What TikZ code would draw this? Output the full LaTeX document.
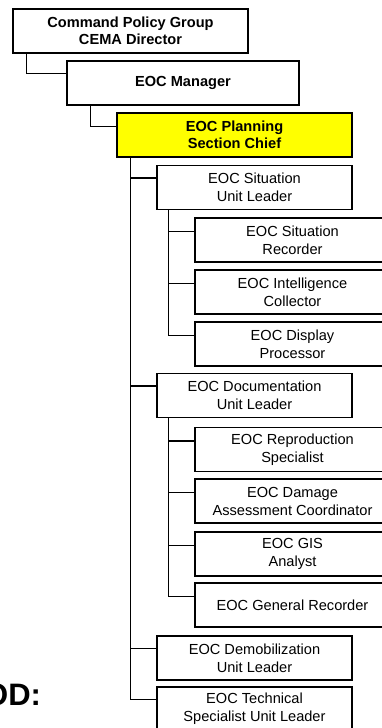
\documentclass[tikz,border=0pt]{standalone}
\usepackage{fontspec}
\setmainfont{Liberation Sans}
\definecolor{chiefyellow}{RGB}{255,255,0}
\begin{document}
\begin{tikzpicture}[x=1pt,y=-1pt,
  orgbox/.style={draw, line width=1.3pt, fill=white, align=center, inner sep=0pt,
    minimum height=44pt, font=\fontsize{14.6}{18}\selectfont},
  topbox/.style={orgbox, font=\fontsize{14.6}{17.5}\selectfont\bfseries},
  unitbox/.style={orgbox, minimum width=195pt},
  staffbox/.style={orgbox, minimum width=195pt},
  link/.style={line width=1.3pt}
]
\useasboundingbox (0,0) rectangle (382,728);
\clip (0,0) rectangle (382,728);

% command chain
\node[topbox, minimum width=235pt] (cpg) at (130.5,31) {Command Policy Group\\CEMA Director};
\node[topbox, minimum width=232pt] (mgr) at (183,83) {EOC Manager};
\node[topbox, minimum width=235pt, fill=chiefyellow] (psc) at (234.5,135) {EOC Planning\\Section Chief};

% units
\node[unitbox] (sul) at (254.5,187.5) {EOC Situation\\Unit Leader};
\node[unitbox] (dul) at (254.5,395.5) {EOC Documentation\\Unit Leader};
\node[unitbox] (dem) at (254.5,658) {EOC Demobilization\\Unit Leader};
\node[unitbox] (tec) at (254.5,709) {EOC Technical\\Specialist Unit Leader};

% situation unit staff
\node[staffbox] (rec) at (292.5,240) {EOC Situation\\Recorder};
\node[staffbox] (int) at (292.5,292) {EOC Intelligence\\Collector};
\node[staffbox] (dsp) at (292.5,344) {EOC Display\\Processor};

% documentation unit staff
\node[staffbox] (rep) at (292.5,449.5) {EOC Reproduction\\Specialist};
\node[staffbox] (dmg) at (292.5,501) {EOC Damage\\Assessment Coordinator};
\node[staffbox] (gis) at (292.5,554) {EOC GIS\\Analyst};
\node[staffbox] (gen) at (292.5,605) {EOC General Recorder};

% heading fragment
\node[font=\fontsize{31}{31}\selectfont\bfseries, anchor=base west, inner sep=0pt] (lbl) at (-16,705) {OD:};

% connectors
\draw[link] ([xshift=14pt]cpg.south west) |- ([yshift=-13pt]mgr.north west);
\draw[link] ([xshift=24pt]mgr.south west) |- ([yshift=-14pt]psc.north west);

\draw[link] ([xshift=14pt]psc.south west) |- ([yshift=-13pt]tec.north west);
\foreach \u in {sul,dul,dem}
  \draw[link] ([xshift=14pt]psc.south west) |- ([yshift=-13pt]\u.north west);

\draw[link] ([xshift=12pt]sul.south west) |- ([yshift=-14pt]dsp.north west);
\foreach \s in {rec,int}
  \draw[link] ([xshift=12pt]sul.south west) |- ([yshift=-14pt]\s.north west);

\draw[link] ([xshift=12pt]dul.south west) |- ([yshift=-14pt]gen.north west);
\foreach \s in {rep,dmg,gis}
  \draw[link] ([xshift=12pt]dul.south west) |- ([yshift=-14pt]\s.north west);
\end{tikzpicture}
\end{document}
